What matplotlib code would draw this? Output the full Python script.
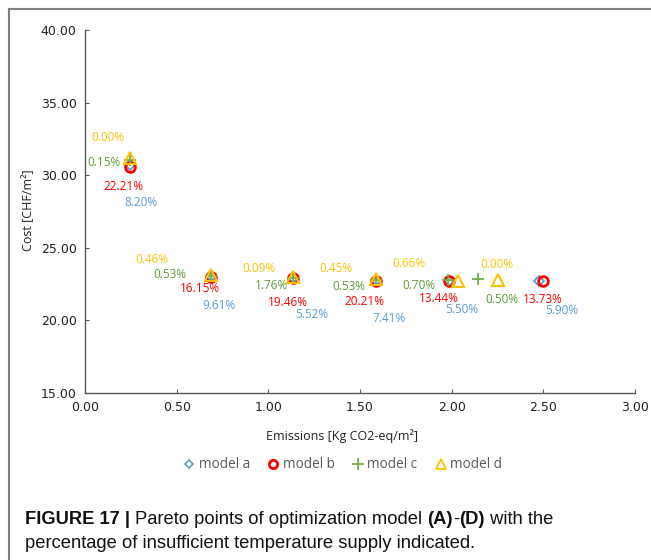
import matplotlib
matplotlib.use('Agg')
import matplotlib.pyplot as plt
from matplotlib.lines import Line2D

# 데이터
model_names = ['model a', 'model b', 'model c', 'model d']

x_a = [0.245, 0.687, 1.135, 1.588, 1.986, 2.477]
y_a = [30.70, 23.06, 22.92, 22.78, 22.72, 22.72]
x_b = [0.245, 0.687, 1.135, 1.588, 1.986, 2.499]
y_b = [30.56, 23.02, 22.92, 22.74, 22.68, 22.68]
x_c = [0.245, 0.687, 1.135, 1.588, 1.980, 2.144]
y_c = [31.05, 23.06, 22.95, 22.80, 22.78, 22.82]
x_d = [0.245, 0.687, 1.135, 1.588, 2.035, 2.253]
y_d = [31.18, 23.12, 22.98, 22.85, 22.74, 22.78]

pct_a = ['8.20%', '9.61%', '5.52%', '7.41%', '5.50%', '5.90%']
pct_b = ['22.21%', '16.15%', '19.46%', '20.21%', '13.44%', '13.73%']
pct_c = ['0.15%', '0.53%', '1.76%', '0.53%', '0.70%', '0.50%']
pct_d = ['0.00%', '0.46%', '0.09%', '0.45%', '0.66%', '0.00%']

x_ticks = [0.0, 0.5, 1.0, 1.5, 2.0, 2.5, 3.0]
y_ticks = [15, 20, 25, 30, 35, 40]

# 라벨 위치 (점 기준 픽셀 offset)
off_a = [(11, -37), (8, -30), (19, -36), (13, -38), (13, -29), (23, -30)]
off_b = [(-6, -19), (-11, -12), (-5, -24), (-12, -21), (-10, -17), (0, -18)]
off_c = [(-26, -3), (-41, 1), (-22, -8), (-27, -7), (-29, -5), (24, -20)]
off_d = [(-22, 21), (-59, 16), (-34, 9), (-40, 11), (-49, 17), (-1, 16)]

blue = '#5B9BD5'
red = '#FF0000'
green = '#70AD47'
green_txt = '#5E9A3A'
yellow = '#FFC000'
gray = '#595959'

W, H = 651, 560
fig = plt.figure(figsize=(W / 100, H / 100), dpi=100)
ax = fig.add_axes([85 / W, 1 - 393 / H, 550 / W, 363 / H])

ax.plot(x_a, y_a, 'D', ms=5.5, mfc='none', mec=blue, mew=1.3, ls='none')
ax.plot(x_b, y_b, 'o', ms=7, mfc='none', mec=red, mew=2, ls='none')
ax.plot(x_c, y_c, '+', ms=9, mec=green, mew=1.3, ls='none')
ax.plot(x_d, y_d, '^', ms=8, mfc='none', mec=yellow, mew=1.5, ls='none')

for xs, ys, labs, offs, col in [(x_a, y_a, pct_a, off_a, blue),
                                (x_b, y_b, pct_b, off_b, red),
                                (x_c, y_c, pct_c, off_c, green_txt),
                                (x_d, y_d, pct_d, off_d, yellow)]:
    for xv, yv, t, o in zip(xs, ys, labs, offs):
        ax.annotate(t, (xv, yv), xytext=o, textcoords='offset pixels',
                    ha='center', va='center', color=col,
                    fontsize=8.5, family='Open Sans')

ax.set_xlim(0, 3)
ax.set_ylim(15, 40)
ax.set_xticks(x_ticks)
ax.set_yticks(y_ticks)
ax.set_xticklabels(['%.2f' % v for v in x_ticks])
ax.set_yticklabels(['%.2f' % v for v in y_ticks])
ax.tick_params(direction='in', length=3, color=gray, labelsize=9,
               labelcolor='#222222', pad=6)
for s in ['top', 'right']:
    ax.spines[s].set_visible(False)
for s in ['left', 'bottom']:
    ax.spines[s].set_color(gray)
    ax.spines[s].set_linewidth(1)

fig.text(342 / W, 1 - 436 / H, 'Emissions [Kg CO2-eq/m²]', ha='center',
         va='center', fontsize=9, family='Open Sans', color='#222222')
fig.text(28 / W, 1 - 210 / H, 'Cost [CHF/m²]', rotation=90, ha='center',
         va='center', fontsize=9, family='Open Sans', color='#222222')

# 범례
handles = [
    Line2D([], [], marker='D', ms=4.5, mfc='none', mec=blue, mew=1.2, ls='none'),
    Line2D([], [], marker='o', ms=6, mfc='none', mec=red, mew=2, ls='none'),
    Line2D([], [], marker='+', ms=8, mec=green, mew=1.2, ls='none'),
    Line2D([], [], marker='^', ms=7, mfc='none', mec=yellow, mew=1.3, ls='none'),
]
leg = fig.legend(handles, model_names, loc='center', ncol=4,
                 bbox_to_anchor=(343 / W, 1 - 465 / H), frameon=False,
                 handlelength=0.8, handletextpad=0.3, columnspacing=1.3,
                 prop={'family': 'Open Sans', 'size': 9.8})
for t in leg.get_texts():
    t.set_color(gray)

# 테두리 선
fig.add_artist(Line2D([9 / W, 1], [1 - 9 / H, 1 - 9 / H], color='#808080',
                      lw=1.5, transform=fig.transFigure))
fig.add_artist(Line2D([9 / W, 9 / W], [0, 1 - 9 / H], color='#808080',
                      lw=1.5, transform=fig.transFigure))

# 캡션 (굵은 글씨 섞기)
renderer = fig.canvas.get_renderer()
cap_lines = [
    [('FIGURE 17 | ', 'bold'), ('Pareto points of optimization model ', 'normal'),
     ('(A)', 'bold'), ('-', 'normal'), ('(D)', 'bold'), (' with the', 'normal')],
    [('percentage of insufficient temperature supply indicated.', 'normal')],
]
cap_y = [519, 543]
for parts, yy in zip(cap_lines, cap_y):
    xpos = 25 / W
    for txt, wt in parts:
        t = fig.text(xpos, 1 - yy / H, txt, ha='left', va='center',
                     fontsize=13.2, fontweight=wt, family='Liberation Sans',
                     color='#111111')
        bb = t.get_window_extent(renderer)
        xpos += bb.width / W

fig.savefig('out.png', dpi=100)
